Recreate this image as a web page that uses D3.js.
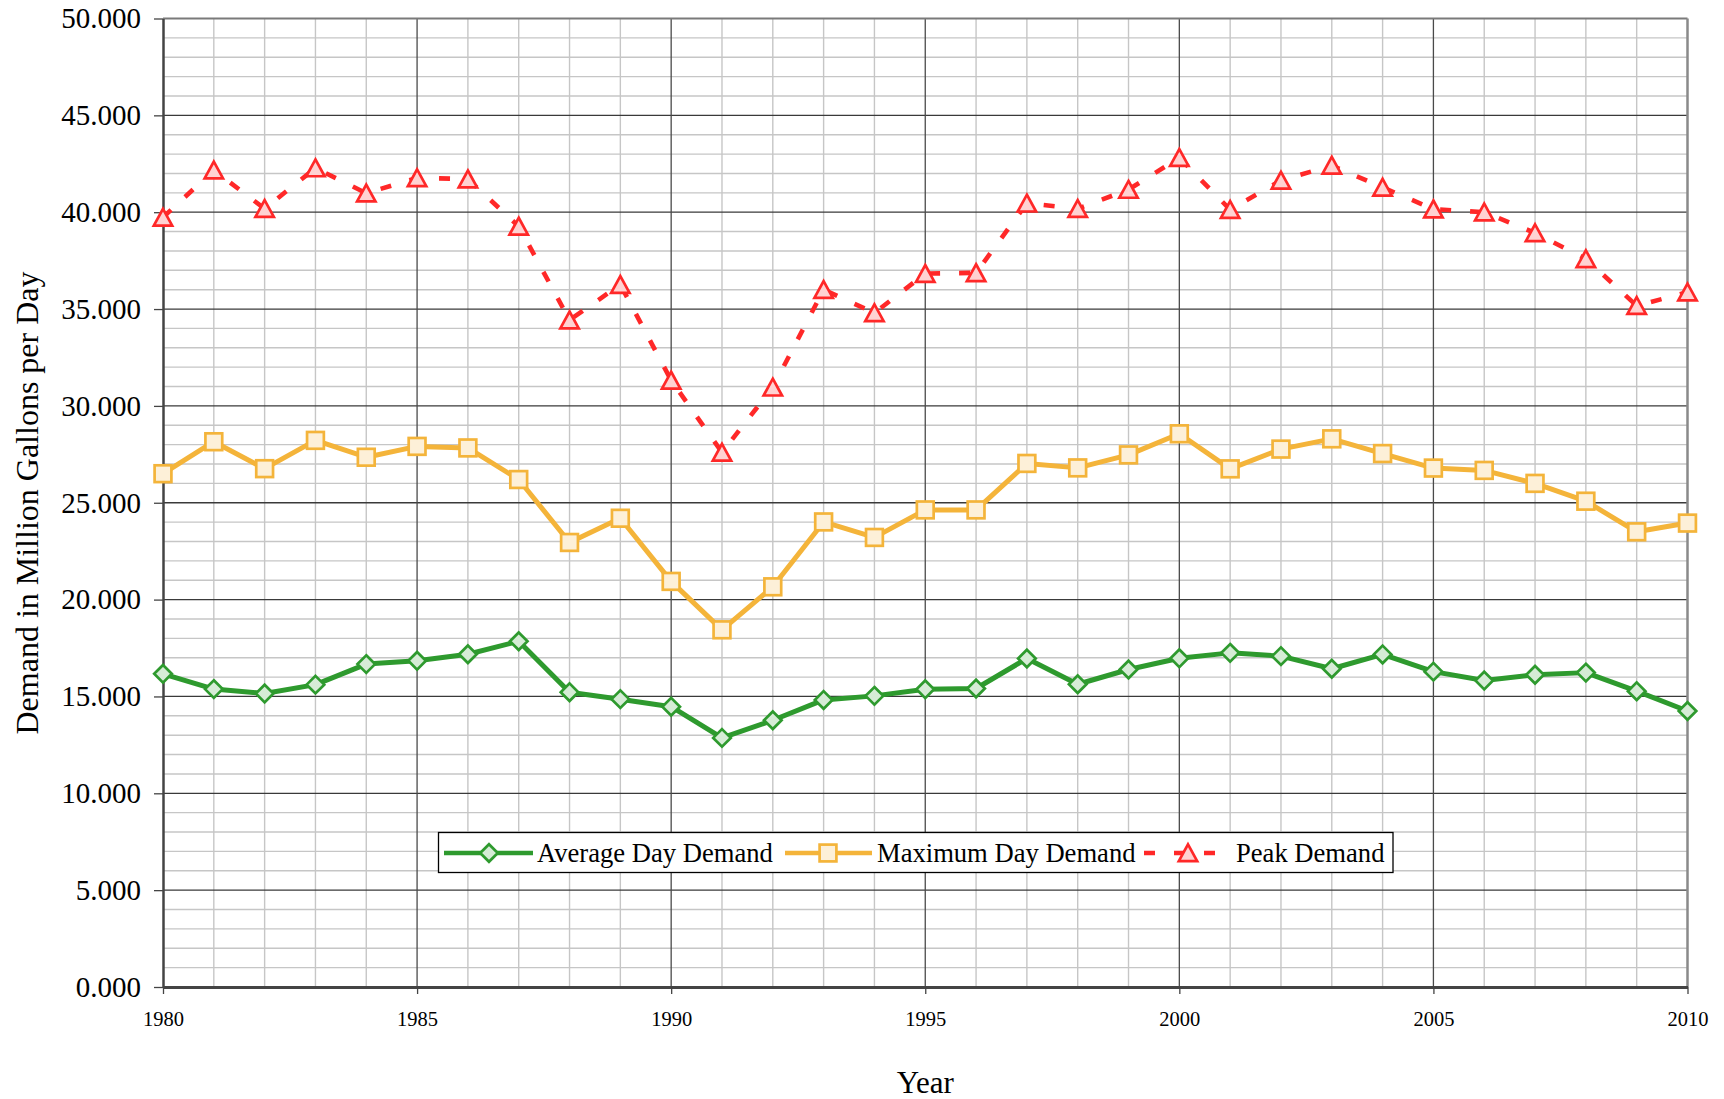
<!DOCTYPE html>
<html>
<head>
<meta charset="utf-8">
<script src="https://cdn.jsdelivr.net/npm/d3@7"></script>
<style>
  html, body { margin: 0; padding: 0; background: #fff; }
  svg { display: block; }
  svg text { font-family: "Liberation Serif", "Times New Roman", serif; fill: #000; }
</style>
</head>
<body>
<svg id="chart" width="1724" height="1099"></svg>
<script>
// Water demand 1980-2010, million gallons per day

const years = d3.range(1980, 2011);

const averageDay = [
    16.17, 15.38, 15.15, 15.61, 16.67, 16.84, 17.18, 17.85, 15.22, 14.86,
    14.47, 12.86, 13.77, 14.82, 15.03, 15.37, 15.41, 16.96, 15.63, 16.39,
    16.97, 17.25, 17.08, 16.43, 17.17, 16.28, 15.82, 16.12, 16.23, 15.27,
    14.25
];

const maximumDay = [
    26.50, 28.15, 26.76, 28.22, 27.35, 27.91, 27.83, 26.20, 22.95, 24.20,
    20.94, 18.44, 20.66, 24.01, 23.21, 24.63, 24.63, 27.03, 26.80, 27.47,
    28.56, 26.75, 27.77, 28.30, 27.54, 26.79, 26.67, 26.00, 25.08, 23.50,
    23.95
];

const peakDemand = [
    39.73, 42.17, 40.18, 42.28, 40.98, 41.77, 41.71, 39.27, 34.43, 36.26,
    31.32, 27.60, 30.96, 36.00, 34.80, 36.83, 36.87, 40.46, 40.18, 41.17,
    42.81, 40.13, 41.64, 42.41, 41.28, 40.16, 40.00, 38.93, 37.59, 35.17,
    35.87
];

const seriesNames = ["Average Day Demand", "Maximum Day Demand", "Peak Demand"];
const yTicks = d3.range(0, 51, 5);
const xTicks = d3.range(1980, 2011, 5);

const svg = d3.select("#chart");
const W = 1724, H = 1099;
const plot = { left: 163, right: 1687.5, top: 18.5, bottom: 987 };

const x = d3.scaleLinear().domain([1980, 2010]).range([plot.left, plot.right]);
const y = d3.scaleLinear().domain([0, 50]).range([plot.bottom, plot.top]);

svg.append("rect").attr("width", W).attr("height", H).attr("fill", "#fff");

// Grid: minor first, then major
const grid = svg.append("g");
grid.selectAll("line.hmin")
    .data(d3.range(0, 51).filter(v => v % 5 !== 0))
    .join("line")
    .attr("x1", plot.left).attr("x2", plot.right)
    .attr("y1", d => y(d)).attr("y2", d => y(d))
    .attr("stroke", "#c6c6c6").attr("stroke-width", 1.4);
grid.selectAll("line.vmin")
    .data(years.filter(v => v % 5 !== 0))
    .join("line")
    .attr("x1", d => x(d)).attr("x2", d => x(d))
    .attr("y1", plot.top).attr("y2", plot.bottom)
    .attr("stroke", "#c6c6c6").attr("stroke-width", 1.4);
grid.selectAll("line.hmaj")
    .data(yTicks.filter(v => v > 0 && v < 50))
    .join("line")
    .attr("x1", plot.left).attr("x2", plot.right)
    .attr("y1", d => y(d)).attr("y2", d => y(d))
    .attr("stroke", "#3a3a3a").attr("stroke-width", 1.3);
grid.selectAll("line.vmaj")
    .data(xTicks.filter(v => v > 1980 && v < 2010))
    .join("line")
    .attr("x1", d => x(d)).attr("x2", d => x(d))
    .attr("y1", plot.top).attr("y2", plot.bottom)
    .attr("stroke", "#4a4a4a").attr("stroke-width", 1.3);

// Plot frame top/right
svg.append("line")
    .attr("x1", plot.left).attr("x2", plot.right)
    .attr("y1", plot.top).attr("y2", plot.top)
    .attr("stroke", "#7a7a7a").attr("stroke-width", 2);
svg.append("line")
    .attr("x1", plot.right).attr("x2", plot.right)
    .attr("y1", plot.top).attr("y2", plot.bottom)
    .attr("stroke", "#8a8a8a").attr("stroke-width", 2.5);

// Axes
const yAxis = svg.append("g")
    .attr("transform", `translate(${plot.left},0)`)
    .call(d3.axisLeft(y).tickValues(yTicks).tickFormat(d3.format(".3f"))
        .tickSize(9).tickSizeOuter(0).tickPadding(13));
yAxis.attr("font-family", null);
yAxis.select(".domain").attr("stroke", "#444").attr("stroke-width", 2.5);
yAxis.selectAll(".tick line").attr("stroke", "#444").attr("stroke-width", 1.3);
yAxis.selectAll(".tick text").attr("font-size", 29).attr("fill", "#000");

const xAxis = svg.append("g")
    .attr("transform", `translate(0,${plot.bottom})`)
    .call(d3.axisBottom(x).tickValues(xTicks).tickFormat(d3.format("d"))
        .tickSize(7).tickSizeOuter(0).tickPadding(17));
xAxis.attr("font-family", null);
xAxis.select(".domain").attr("stroke", "#444").attr("stroke-width", 3);
xAxis.selectAll(".tick line").attr("stroke", "#444").attr("stroke-width", 1.3);
xAxis.selectAll(".tick text").attr("font-size", 20.5).attr("fill", "#000");

// Axis titles
svg.append("text")
    .attr("x", (plot.left + plot.right) / 2).attr("y", 1093)
    .attr("text-anchor", "middle").attr("font-size", 31)
    .text("Year");
svg.append("text")
    .attr("transform", `translate(38,503) rotate(-90)`)
    .attr("text-anchor", "middle").attr("font-size", 32)
    .text("Demand in Million Gallons per Day");

// Series
const series = [
    { name: seriesNames[0], values: averageDay, stroke: "#2e9a2e", fill: "#d6ecd6", dash: null, shape: "diamond" },
    { name: seriesNames[1], values: maximumDay, stroke: "#f4b43a", fill: "#fdf0d8", dash: null, shape: "square" },
    { name: seriesNames[2], values: peakDemand, stroke: "#ff2828", fill: "#ffd2d2", dash: "11,19", shape: "triangle" }
];

const line = d3.line().x((d, i) => x(years[i])).y(d => y(d));

function marker(g, s) {
    if (s.shape === "square") {
        g.append("rect").attr("x", -8.4).attr("y", -8.4).attr("width", 16.8).attr("height", 16.8)
            .attr("fill", s.fill).attr("stroke", s.stroke).attr("stroke-width", 2.7);
    } else if (s.shape === "diamond") {
        g.append("path").attr("d", "M0,-8.8L8.8,0L0,8.8L-8.8,0Z")
            .attr("fill", s.fill).attr("stroke", s.stroke).attr("stroke-width", 2.7);
    } else {
        g.append("path").attr("d", "M0,-8.6L9.2,8.2L-9.2,8.2Z")
            .attr("fill", s.fill).attr("stroke", s.stroke).attr("stroke-width", 2.7)
            .attr("stroke-linejoin", "miter");
    }
}

series.forEach(s => {
    const g = svg.append("g");
    g.append("path")
        .attr("d", line(s.values))
        .attr("fill", "none")
        .attr("stroke", s.stroke)
        .attr("stroke-width", s.dash ? 4.6 : 5)
        .attr("stroke-linejoin", "round")
        .attr("stroke-dasharray", s.dash);
    g.selectAll("g.pt")
        .data(s.values)
        .join("g")
        .attr("transform", (d, i) => `translate(${x(years[i])},${y(d)})`)
        .each(function () { marker(d3.select(this), s); });
});

// Legend
const legend = svg.append("g");
legend.append("rect")
    .attr("x", 438.5).attr("y", 832.5).attr("width", 954.5).attr("height", 40)
    .attr("fill", "#fff").attr("stroke", "#000").attr("stroke-width", 1.3);

const legendPos = [
    { x1: 444, x2: 533, mx: 489, tx: 537 },
    { x1: 785, x2: 872, mx: 828, tx: 877 },
    { x1: 1144, x2: 1234, mx: 1188, tx: 1236 }
];
series.forEach((s, i) => {
    const p = legendPos[i];
    const ly = 853;
    legend.append("line")
        .attr("x1", p.x1).attr("x2", p.x2).attr("y1", ly).attr("y2", ly)
        .attr("stroke", s.stroke).attr("stroke-width", 4.6)
        .attr("stroke-dasharray", s.dash);
    const m = legend.append("g").attr("transform", `translate(${p.mx},${ly})`);
    marker(m, s);
    legend.append("text")
        .attr("x", p.tx).attr("y", 861.5)
        .attr("font-size", 26.6)
        .text(s.name);
});
</script>
</body>
</html>
